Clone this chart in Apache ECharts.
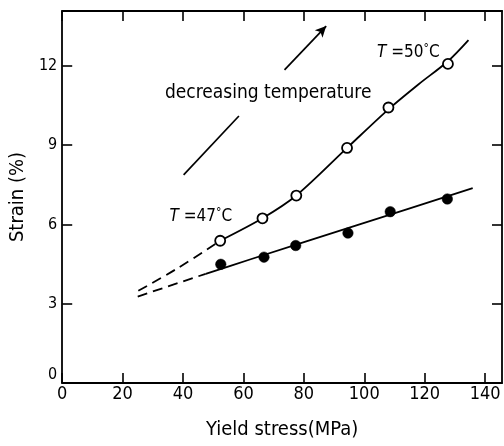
<!DOCTYPE html>
<html>
<head>
<meta charset="utf-8">
<style>
  html, body { margin: 0; padding: 0; background: #fff; }
  #chart { width: 504px; height: 446px; }
</style>
<script src="https://cdn.jsdelivr.net/npm/echarts@6/dist/echarts.min.js"></script>
</head>
<body>
<div id="chart"></div>
<script>
// Tick values
const xTicks = [0, 20, 40, 60, 80, 100, 120, 140];
const yTicks = [0, 3, 6, 9, 12];

// Measured points: open circles (T = 50 °C) and filled circles (T = 47 °C)
const stressOpen = [52.3, 66.3, 77.5, 94.3, 108.0, 127.7];
const strainOpen = [5.38, 6.23, 7.09, 8.89, 10.42, 12.07];
const stressFilled = [52.5, 66.8, 77.3, 94.6, 108.6, 127.5];
const strainFilled = [4.49, 4.76, 5.20, 5.67, 6.48, 6.96];

// Fitted curves (solid part) and their dashed extrapolation
const fit50X = [52.3, 66.3, 77.5, 94.3, 108.0, 118.0, 127.7, 134.5];
const fit50Y = [5.38, 6.23, 7.09, 8.89, 10.35, 11.3, 12.17, 12.97];
const ext50X = [25.2, 37.6, 52.3];
const ext50Y = [3.49, 4.3, 5.38];
const fit47X = [47.5, 62.4, 98.7, 135.9];
const fit47Y = [4.13, 4.68, 6.01, 7.37];
const ext47X = [25.0, 47.5];
const ext47Y = [3.27, 4.13];

// Annotation strokes, in axis units: [x0, y0, x1, y1]
const arrowUp = [73.6, 11.84, 87.4, 13.5];
const strokeLow = [40.2, 7.87, 58.5, 10.1];

const FONT = "'DejaVu Sans Condensed', 'DejaVu Sans', sans-serif";
const zip = (xs, ys) => xs.map((x, i) => [x, ys[i]]);
const tickLabel = ticks => v => (ticks.indexOf(v) >= 0 ? String(v) : '');

const axisLineStyle = { color: '#000', width: 1.8 };
const tickStyle = { color: '#000', width: 1.6 };

const xBase = {
  type: 'value', min: 0, max: 145.6,
  axisLine: { show: true, onZero: false, lineStyle: axisLineStyle },
  axisTick: { show: true, inside: true, length: 10, lineStyle: tickStyle, customValues: xTicks },
  splitLine: { show: false }
};
const yBase = {
  type: 'value', min: 0, max: 14.07,
  axisLine: { show: true, onZero: false, lineStyle: axisLineStyle },
  axisTick: { show: true, inside: true, length: 10, lineStyle: tickStyle, customValues: yTicks },
  splitLine: { show: false }
};

const chart = echarts.init(document.getElementById('chart'), null, { renderer: 'canvas' });

const curveStyle = { color: '#000', width: 1.8 };
const dashStyle = { color: '#000', width: 1.8, type: [10, 6] };

const textPoint = (x, y, text, fontSize, rich) => ({
  type: 'scatter', data: [[x, y]], symbolSize: 0, silent: true, z: 5,
  itemStyle: { opacity: 1 },
  label: {
    show: true, position: 'inside', formatter: text, opacity: 1,
    color: '#000', fontFamily: FONT, fontSize: fontSize, rich: rich || {}
  }
});

const tempRich = {
  it: { fontStyle: 'italic', fontFamily: FONT, fontSize: 17, color: '#000' },
  n: { fontFamily: FONT, fontSize: 17, color: '#000' },
  d: { fontFamily: FONT, fontSize: 12, color: '#000', padding: [0, 0, 8, 0] }
};

chart.setOption({
  animation: false,
  backgroundColor: '#fff',
  grid: { left: 61, top: 11, right: 2, bottom: 63 },
  xAxis: [
    Object.assign({}, xBase, {
      position: 'bottom',
      name: 'Yield stress(MPa)', nameLocation: 'middle', nameGap: 37,
      nameTextStyle: { color: '#000', fontFamily: FONT, fontSize: 20 },
      axisLabel: {
        show: true, customValues: xTicks, formatter: tickLabel(xTicks),
        margin: 2, color: '#000', fontFamily: FONT, fontSize: 18
      }
    }),
    Object.assign({}, xBase, { position: 'top', axisLabel: { show: false } })
  ],
  yAxis: [
    Object.assign({}, yBase, {
      position: 'left',
      name: 'Strain (%)', nameLocation: 'middle', nameGap: 33,
      nameTextStyle: { color: '#000', fontFamily: FONT, fontSize: 20 },
      axisLabel: {
        show: true, customValues: yTicks, formatter: tickLabel(yTicks),
        verticalAlignMinLabel: 'bottom',
        margin: 5, color: '#000', fontFamily: FONT, fontSize: 16
      }
    }),
    Object.assign({}, yBase, { position: 'right', axisLabel: { show: false } })
  ],
  series: [
    { type: 'line', data: zip(ext50X, ext50Y), smooth: 0.4, symbol: 'none', lineStyle: dashStyle, silent: true },
    { type: 'line', data: zip(fit50X, fit50Y), smooth: 0.3, symbol: 'none', lineStyle: curveStyle, silent: true },
    { type: 'line', data: zip(ext47X, ext47Y), symbol: 'none', lineStyle: dashStyle, silent: true },
    { type: 'line', data: zip(fit47X, fit47Y), smooth: 0.3, symbol: 'none', lineStyle: curveStyle, silent: true },
    {
      type: 'scatter', data: zip(stressOpen, strainOpen), symbol: 'circle', symbolSize: 10, z: 4,
      itemStyle: { color: '#fff', borderColor: '#000', borderWidth: 1.8, opacity: 1 }
    },
    {
      type: 'scatter', data: zip(stressFilled, strainFilled), symbol: 'circle', symbolSize: 10.5, z: 4,
      itemStyle: { color: '#000', borderColor: '#000', borderWidth: 0.5, opacity: 1 }
    },
    textPoint(68.2, 10.97, 'decreasing temperature', 19),
    textPoint(114.6, 12.48, '{it|T} {n|=50}{d|°}{n|C}', 17, tempRich),
    textPoint(45.9, 6.3, '{it|T} {n|=47}{d|°}{n|C}', 17, tempRich),
    {
      type: 'scatter', data: [], silent: true,
      markLine: {
        silent: true, animation: false, label: { show: false },
        lineStyle: { color: '#000', width: 1.7, type: 'solid', opacity: 1 },
        data: [
          [{ coord: [arrowUp[0], arrowUp[1]], symbol: 'none' },
           { coord: [arrowUp[2], arrowUp[3]], symbol: 'arrow', symbolSize: [8, 11] }],
          [{ coord: [strokeLow[0], strokeLow[1]], symbol: 'none' },
           { coord: [strokeLow[2], strokeLow[3]], symbol: 'none' }]
        ]
      }
    }
  ]
});
</script>
</body>
</html>
